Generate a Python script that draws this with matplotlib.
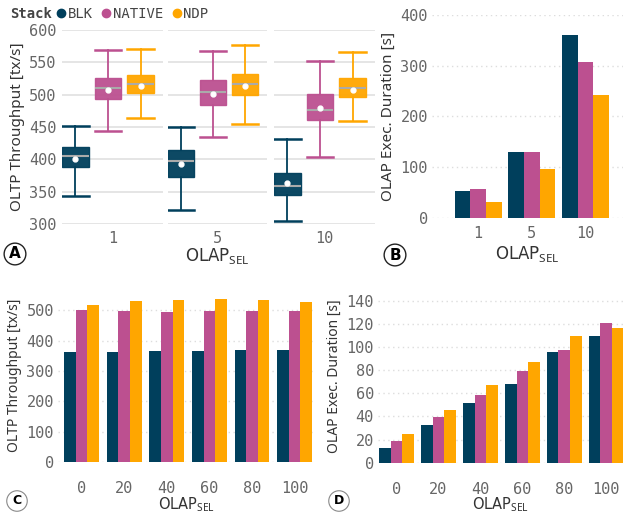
import numpy as np
import matplotlib.pyplot as plt
from matplotlib.lines import Line2D

plt.rcParams['mathtext.fontset'] = 'custom'
plt.rcParams['mathtext.rm'] = 'Noto Sans'

W, H = 623, 516

stacks = ['BLK', 'NATIVE', 'NDP']
colors = ['#003f5c', '#bc5090', '#ffa600']

# panel A: box statistics, one row per OLAP_SEL facet, one column per stack
sel_a = ['1', '5', '10']
whislo = [[344, 444, 464], [322, 434, 455], [305, 404, 460]]
q1 = [[388, 493, 503], [372, 484, 500], [345, 461, 496]]
med = [[405, 511, 517], [397, 504, 516], [359, 477, 510]]
mean = [[401, 507, 514], [393, 501, 513], [363, 480, 507]]
q3 = [[419, 526, 531], [414, 523, 532], [379, 501, 525]]
whishi = [[452, 569, 570], [450, 568, 577], [431, 552, 566]]

# panel B: OLAP duration [s]
b_blk = [54, 131, 360]
b_native = [58, 131, 308]
b_ndp = [32, 97, 243]

# panels C and D
sel_cd = ['0', '20', '40', '60', '80', '100']
tput_blk = [362, 362, 366, 366, 369, 369]
tput_native = [501, 498, 494, 498, 498, 498]
tput_ndp = [518, 531, 534, 537, 534, 527]
dur_blk = [12.4, 32.6, 51.6, 68, 95.7, 109.5]
dur_native = [18.8, 39.5, 58.5, 79.3, 97.4, 120.5]
dur_ndp = [24.8, 45.5, 67.1, 87, 109.5, 116.4]

MONO = 'DejaVu Sans Mono'
SANS = 'Noto Sans'
TICK_C = '#666666'
LAB_C = '#333333'
SEL = r'OLAP$_{\mathrm{SEL}}$'


def rect(l, t, r, b):
    return [l / W, 1 - b / H, (r - l) / W, (b - t) / H]


def style(ax, grid_ls, size=11):
    for s in ax.spines.values():
        s.set_visible(False)
    ax.tick_params(length=0, labelsize=size, labelcolor=TICK_C)
    for lab in ax.get_xticklabels() + ax.get_yticklabels():
        lab.set_fontfamily(MONO)
    ax.set_axisbelow(True)
    if grid_ls == '-':
        ax.yaxis.grid(True, color='#e3e3e3', lw=1.3, ls='-')
    else:
        ax.yaxis.grid(True, color='#dddddd', lw=1.0, ls=(0, (1, 2.5)))


def grouped(ax, series, gw):
    x = np.arange(len(series[0]))
    w = gw / 3
    for i, (vals, c) in enumerate(zip(series, colors)):
        ax.bar(x + (i - 1) * w, vals, w, color=c, lw=0)
    return x


def badge(x, y, letter, big):
    fig.text(x / W, 1 - y / H, letter, ha='center', va='center',
             fontsize=11 if big else 9, fontweight='bold', fontfamily='DejaVu Sans',
             color='black',
             bbox=dict(boxstyle='circle,pad=0.22' if big else 'circle,pad=0.3',
                       fc='white', ec='#222222' if big else '#888888',
                       lw=1.0 if big else 0.8))


fig = plt.figure(figsize=(W / 100, H / 100), dpi=100)

# ---- panel A: faceted boxplots
facets = [(62, 163), (168, 267), (274, 375)]
for f, (l, r) in enumerate(facets):
    ax = fig.add_axes(rect(l, 30, r, 224))
    stats = []
    for s in range(3):
        stats.append(dict(whislo=whislo[f][s], q1=q1[f][s], med=med[f][s],
                          mean=mean[f][s], q3=q3[f][s], whishi=whishi[f][s],
                          fliers=[]))
    bp = ax.bxp(stats, positions=[0, 1, 2], widths=0.82, capwidths=0.82,
                showmeans=True, patch_artist=True,
                medianprops=dict(color='#aaaaaa', lw=1.5),
                meanprops=dict(marker='o', markerfacecolor='white',
                               markeredgecolor='white', markersize=3.5))
    for s, c in enumerate(colors):
        bp['boxes'][s].set_facecolor(c)
        bp['boxes'][s].set_edgecolor(c)
        bp['boxes'][s].set_alpha(0.95)
        for k in (2 * s, 2 * s + 1):
            bp['whiskers'][k].set_color(c)
            bp['whiskers'][k].set_lw(1.3)
            bp['caps'][k].set_color(c)
            bp['caps'][k].set_lw(1.8)
    ax.set_xlim(-0.41, 2.68)
    ax.set_ylim(300, 600)
    ax.set_yticks(range(300, 601, 50))
    ax.set_xticks([1.13])
    ax.set_xticklabels([sel_a[f]])
    style(ax, '-')
    ax.tick_params(axis='x', pad=5)
    if f == 0:
        ax.set_ylabel('OLTP Throughput [tx/s]', fontsize=11, fontfamily=SANS,
                      color=LAB_C, labelpad=3)
        ax.tick_params(axis='y', pad=4)
    else:
        ax.set_yticklabels([])
    if f == 1:
        ax.set_xlabel(SEL, fontsize=12, color=LAB_C, labelpad=0)

# ---- panel B
ax = fig.add_axes(rect(432, 15, 623, 218))
x = grouped(ax, [b_blk, b_native, b_ndp], 0.88)
ax.set_xlim(-0.86, 2.7)
ax.set_ylim(0, 400)
ax.set_yticks(range(0, 401, 100))
ax.set_xticks(x)
ax.set_xticklabels(sel_a)
style(ax, ':')
ax.tick_params(axis='x', pad=6)
ax.tick_params(axis='y', pad=3)
ax.set_ylabel('OLAP Exec. Duration [s]', fontsize=11, fontfamily=SANS,
              color=LAB_C, labelpad=3)
ax.set_xlabel(SEL, fontsize=12, color=LAB_C, labelpad=2)

# ---- panel C
ax = fig.add_axes(rect(58, 289, 315, 462))
x = grouped(ax, [tput_blk, tput_native, tput_ndp], 0.82)
ax.set_xlim(-0.555, 5.48)
ax.set_ylim(0, 570)
ax.set_yticks(range(0, 501, 100))
ax.set_xticks(x)
ax.set_xticklabels(sel_cd)
style(ax, ':')
ax.tick_params(axis='x', pad=14)
ax.tick_params(axis='y', pad=3)
ax.set_ylabel('OLTP Throughput [tx/s]', fontsize=10, fontfamily=SANS,
              color=LAB_C, labelpad=3)
ax.set_xlabel(SEL, fontsize=10.5, color=LAB_C, labelpad=-1)

# ---- panel D
ax = fig.add_axes(rect(378, 289, 623, 462.7))
x = grouped(ax, [dur_blk, dur_native, dur_ndp], 0.83)
ax.set_xlim(-0.44, 5.4)
ax.set_ylim(0, 150)
ax.set_yticks(range(0, 141, 20))
ax.set_xticks(x)
ax.set_xticklabels(sel_cd)
style(ax, ':')
ax.tick_params(axis='x', pad=14)
ax.tick_params(axis='y', pad=3)
ax.set_ylabel('OLAP Exec. Duration [s]', fontsize=10, fontfamily=SANS,
              color=LAB_C, labelpad=3)
ax.set_xlabel(SEL, fontsize=10.5, color=LAB_C, labelpad=-1)

# ---- legend
fig.text(10 / W, 1 - 14 / H, 'Stack', fontfamily=MONO, fontweight='bold',
         fontsize=10, color='#444444', va='center', ha='left')
handles = [Line2D([], [], marker='o', ls='', color=c, markersize=6) for c in colors]
fig.legend(handles, stacks, loc='center left', bbox_to_anchor=(56 / W, 1 - 14 / H),
           ncol=3, frameon=False, handlelength=0.7, handletextpad=0.15,
           columnspacing=0.6, borderpad=0, borderaxespad=0,
           prop={'family': MONO, 'size': 10}, labelcolor='#444444')

badge(15, 254, 'A', True)
badge(395, 255, 'B', True)
badge(17, 501, 'C', False)
badge(339, 501, 'D', False)

fig.savefig('out.png', dpi=100)
